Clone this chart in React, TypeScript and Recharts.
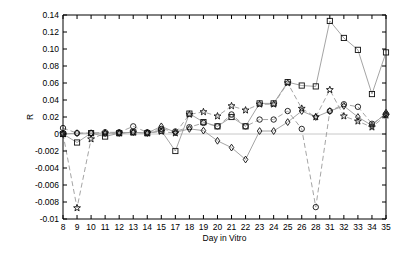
import { LineChart, Line, XAxis, YAxis, ReferenceLine } from "recharts";

// categories (days that were measured, not continuous)
const days = ["8", "9", "10", "11", "12", "13", "14", "15", "17", "18", "19", "20", "21", "22", "23", "24", "25", "26", "28", "31", "32", "33", "34", "35"];

const squareR = [0, -0.001, 0.001, -0.0003, 0.001, 0.002, 0.001, 0.004, -0.002, 0.024, 0.014, 0.009, 0.02, 0.009, 0.036, 0.036, 0.061, 0.057, 0.056, 0.133, 0.113, 0.099, 0.047, 0.096];
const circleR = [0.007, 0.001, 0.001, 0.002, 0.002, 0.009, 0.002, 0.006, 0.003, 0.008, 0.013, 0.009, 0.023, 0.009, 0.017, 0.017, 0.027, 0.006, -0.0086, 0.027, 0.035, 0.032, 0.012, 0.023];
const diamondR = [0, 0.001, 0.001, 0.001, 0.001, 0.002, 0.001, 0.009, 0.002, 0.006, 0.004, -0.0008, -0.0016, -0.003, 0.0035, 0.0035, 0.014, 0.027, 0.02, 0.027, 0.033, 0.02, 0.01, 0.025];
const starR = [0, -0.0087, -0.0006, 0.001, 0.001, 0.002, 0.001, 0.003, 0.001, 0.023, 0.026, 0.021, 0.033, 0.028, 0.035, 0.035, 0.06, 0.03, 0.02, 0.052, 0.021, 0.015, 0.008, 0.022];

const yTicks = [-0.01, -0.008, -0.006, -0.004, -0.002, 0, 0.02, 0.04, 0.06, 0.08, 0.1, 0.12, 0.14];
const yTickLabels = ["-0.01", "-0.008", "-0.006", "-0.004", "-0.002", "0", "0.02", "0.04", "0.06", "0.08", "0.10", "0.12", "0.14"];

// the y axis is split: 0.02 per tick above zero, 0.002 per tick below
const toAxis = (v: number) => (v >= 0 ? v / 0.02 : v / 0.002);

const data = days.map((d, i) => ({
  day: d,
  sq: toAxis(squareR[i]),
  ci: toAxis(circleR[i]),
  di: toAxis(diamondR[i]),
  st: toAxis(starR[i]),
}));

const W = 415;
const H = 257;
const TOP = 15;
const LEFT = 63;
const RIGHT = 386;
const BOTTOM = 219;
const FONT = "'Liberation Sans', Arial, sans-serif";
const LINE = "#9a9a9a";

function starPath(cx: number, cy: number, ro: number, ri: number) {
  let d = "";
  for (let k = 0; k < 10; k++) {
    const r = k % 2 === 0 ? ro : ri;
    const a = -Math.PI / 2 + (k * Math.PI) / 5;
    d += (k === 0 ? "M" : "L") + (cx + r * Math.cos(a)).toFixed(2) + "," + (cy + r * Math.sin(a)).toFixed(2);
  }
  return d + "Z";
}

function makeDot(shape: string) {
  return (props: any) => {
    const { cx, cy, index } = props;
    const key = `${shape}-${index}`;
    if (cx == null || cy == null) return <g key={key} />;
    const s = { fill: "none", stroke: "#111", strokeWidth: 0.9 };
    if (shape === "square") return <rect key={key} x={cx - 2.6} y={cy - 2.6} width={5.2} height={5.2} {...s} />;
    if (shape === "circle") return <circle key={key} cx={cx} cy={cy} r={2.7} {...s} />;
    if (shape === "diamond")
      return <path key={key} d={`M${cx},${cy - 3.4}L${cx + 2.3},${cy}L${cx},${cy + 3.4}L${cx - 2.3},${cy}Z`} {...s} />;
    return <path key={key} d={starPath(cx, cy, 3.6, 1.5)} {...s} />;
  };
}

function XTick(props: any) {
  const { x, y, payload } = props;
  const px = payload.coordinate ?? x;
  return (
    <g>
      <line x1={px} x2={px} y1={BOTTOM} y2={BOTTOM - 4} stroke="#000" />
      <line x1={px} x2={px} y1={TOP} y2={TOP + 4} stroke="#000" />
      <text x={x} y={y} dy="0.35em" textAnchor="middle" fontSize={8.5} fontFamily={FONT} fill="#000">
        {payload.value}
      </text>
    </g>
  );
}

function YTick(props: any) {
  const { x, y, payload } = props;
  const i = yTicks.findIndex((t) => Math.abs(toAxis(t) - payload.value) < 1e-9);
  return (
    <g>
      <line x1={LEFT} x2={LEFT + 4} y1={y} y2={y} stroke="#000" />
      <line x1={RIGHT} x2={RIGHT - 4} y1={y} y2={y} stroke="#000" />
      <text x={x} y={y} dy="0.35em" textAnchor="end" fontSize={8.5} fontFamily={FONT} fill="#000">
        {i >= 0 ? yTickLabels[i] : ""}
      </text>
    </g>
  );
}

export default function App() {
  return (
    <div style={{ position: "absolute", left: 0, top: 0, width: W, height: H, background: "#fff" }}>
      <LineChart width={W} height={H} data={data} margin={{ top: TOP, right: W - RIGHT, bottom: 0, left: 0 }}>
        <XAxis
          dataKey="day"
          type="category"
          height={H - BOTTOM}
          interval={0}
          tickSize={0}
          tickMargin={8}
          tick={<XTick />}
          axisLine={{ stroke: "#000" }}
          label={{
            content: (p: any) => {
              const vb = p.viewBox || { x: LEFT, y: BOTTOM, width: RIGHT - LEFT, height: H - BOTTOM };
              return (
                <text x={vb.x + vb.width / 2} y={vb.y + 19} dy="0.35em" textAnchor="middle" fontSize={8.5} fontFamily={FONT} fill="#000">
                  Day in Vitro
                </text>
              );
            },
          }}
        />
        <YAxis
          type="number"
          domain={[-5, 7]}
          ticks={yTicks.map(toAxis)}
          interval={0}
          width={LEFT}
          tickSize={0}
          tickMargin={4}
          tick={<YTick />}
          axisLine={{ stroke: "#000" }}
          label={{
            content: (p: any) => {
              const vb = p.viewBox || { x: 0, y: TOP, width: LEFT, height: BOTTOM - TOP };
              const cx = vb.x + 30;
              const cy = vb.y + vb.height / 2;
              return (
                <text x={cx} y={cy} dy="0.35em" textAnchor="middle" fontSize={8.5} fontFamily={FONT} fill="#000" transform={`rotate(-90 ${cx} ${cy})`}>
                  R
                </text>
              );
            },
          }}
        />
        <ReferenceLine y={0} stroke="#c8c8c8" strokeWidth={1} />
        <ReferenceLine y={7} stroke="#000" strokeWidth={1} />
        <ReferenceLine x="35" stroke="#000" strokeWidth={1} />
        <Line dataKey="sq" type="linear" stroke={LINE} strokeWidth={0.9} dot={makeDot("square")} activeDot={false} isAnimationActive={false} />
        <Line dataKey="ci" type="linear" stroke={LINE} strokeWidth={0.9} strokeDasharray="5 3" dot={makeDot("circle")} activeDot={false} isAnimationActive={false} />
        <Line dataKey="di" type="linear" stroke={LINE} strokeWidth={0.9} dot={makeDot("diamond")} activeDot={false} isAnimationActive={false} />
        <Line dataKey="st" type="linear" stroke={LINE} strokeWidth={0.9} strokeDasharray="5 3" dot={makeDot("star")} activeDot={false} isAnimationActive={false} />
      </LineChart>
    </div>
  );
}
